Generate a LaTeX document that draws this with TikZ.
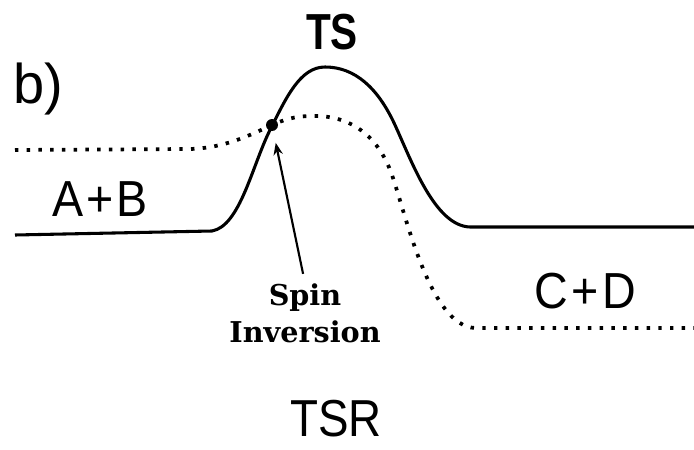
\documentclass[tikz,border=0pt]{standalone}
\usepackage{fontspec}
\setmainfont{Liberation Sans}
\newfontfamily\slabfont{DejaVu Serif}
\usetikzlibrary{arrows.meta}
\tikzset{
  curve/.style={line width=2.3pt, line join=round},
  dotcurve/.style={line width=2.8pt, dash pattern=on 2.6pt off 6.2pt},
  biglabel/.style={inner sep=0pt, anchor=center},
}
\begin{document}
\begin{tikzpicture}[x=0.75pt, y=-0.75pt]
\useasboundingbox (0,0) rectangle (694,450);
% solid curve
\draw[curve] (15,235) -- (212,231)
  .. controls (240,226) and (252,166) .. (270,130)
  .. controls (286,98) and (300,67) .. (325,67)
  .. controls (355,67) and (378,88) .. (395,125)
  .. controls (412,162) and (435,226) .. (470,227)
  -- (694,227);
% dotted curve
\draw[dotcurve] (15,150) -- (190,149)
  .. controls (225,148) and (250,135) .. (272,125)
  .. controls (290,117) and (300,116) .. (315,116)
  .. controls (350,116) and (378,135) .. (392,175)
  .. controls (406,215) and (430,326) .. (475,328)
  -- (694,328);
% crossing dot
\node[circle, fill=black, minimum size=9pt, inner sep=0pt] (dot) at (272,125) {};
% labels
\node[biglabel] (b) at (38,89) {\fontsize{42pt}{42pt}\selectfont b)};
\node[biglabel] (ts) at (332,32) {\scalebox{0.8}[1]{\fontsize{38pt}{38pt}\selectfont\bfseries TS}};
\node[biglabel] (ab) at (100,199) {\scalebox{0.92}[1]{\fontsize{38pt}{38pt}\selectfont A\kern2pt+\kern2pt B}};
\node[biglabel] (cd) at (585,291) {\scalebox{0.92}[1]{\fontsize{38pt}{38pt}\selectfont C\kern3pt+\kern3pt D}};
\node[biglabel] (tsr) at (336,419) {\scalebox{0.88}[1]{\fontsize{39pt}{39pt}\selectfont TSR}};
\node[align=center, inner sep=0pt, anchor=north,
      font={\slabfont\bfseries\fontsize{21.5pt}{28pt}\selectfont}] (spin) at (305,283)
 {Spin\\Inversion};
% arrow
\draw[line width=1.6pt, -{Stealth[length=9pt, width=7pt]}, shorten <=7pt, shorten >=9pt]
 (spin.north) -- (dot);
\end{tikzpicture}
\end{document}
